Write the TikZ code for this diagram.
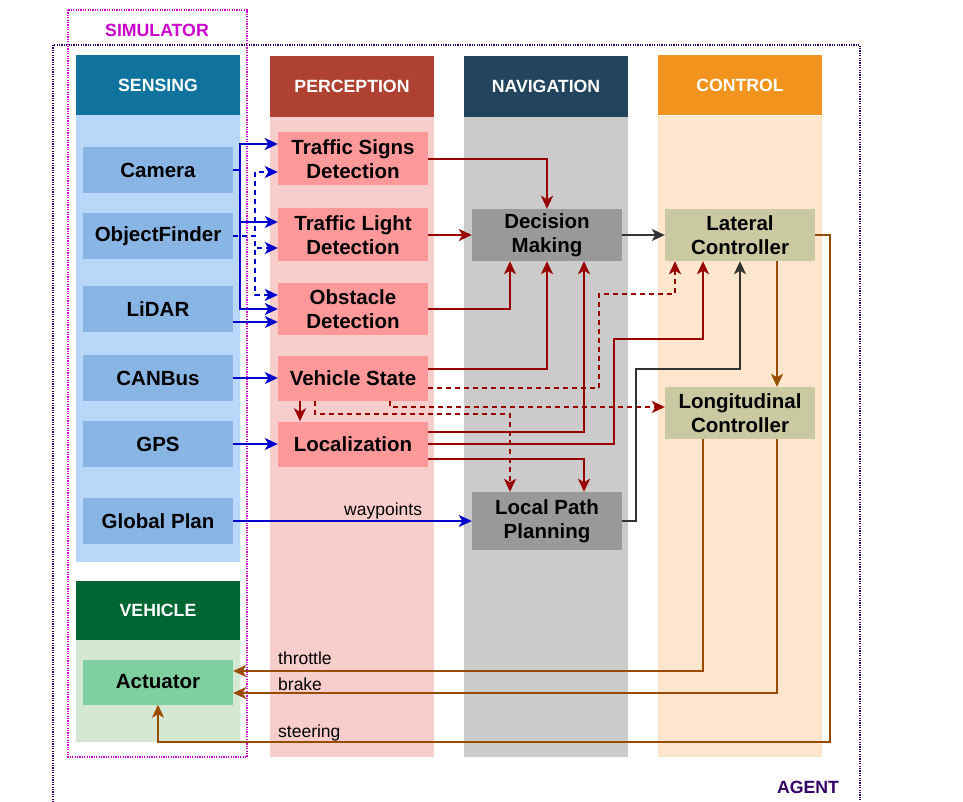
\documentclass[tikz,border=0pt]{standalone}
\usepackage{fontspec}
\setmainfont{Liberation Sans}
\usepackage{tikz}
\usetikzlibrary{arrows.meta}
\usepackage{xcolor}
\definecolor{sensHead}{HTML}{10739E}
\definecolor{sensBody}{HTML}{B9D7F8}
\definecolor{sensNode}{HTML}{89B5E5}
\definecolor{percHead}{HTML}{AE4132}
\definecolor{percBody}{HTML}{F8CECC}
\definecolor{percNode}{HTML}{FF9999}
\definecolor{navHead}{HTML}{23445D}
\definecolor{navBody}{HTML}{CBCBCB}
\definecolor{navNode}{HTML}{999999}
\definecolor{ctrlHead}{HTML}{F2931E}
\definecolor{ctrlBody}{HTML}{FFE6CC}
\definecolor{ctrlNode}{HTML}{C9C9A2}
\definecolor{vehHead}{HTML}{006633}
\definecolor{vehBody}{HTML}{D5E8D4}
\definecolor{vehNode}{HTML}{7FCFA0}
\definecolor{simCol}{HTML}{CC00CC}
\definecolor{agentCol}{HTML}{330066}
\definecolor{sigBlue}{HTML}{0000CC}
\definecolor{sigRed}{HTML}{990000}
\definecolor{sigGray}{HTML}{333333}
\definecolor{sigBrown}{HTML}{994C00}
\newcommand{\boxfont}{\fontsize{20.5}{24}\selectfont\bfseries}
\newcommand{\headfont}{\fontsize{17.7}{20}\selectfont\bfseries}
\newcommand{\lblfont}{\fontsize{17.5}{20}\selectfont}
\tikzset{
  blk/.style     ={minimum width=150pt, minimum height=46pt, inner sep=0pt,
                   align=center, font=\boxfont},
  sensbox/.style ={blk, fill=sensNode},
  percbox/.style ={blk, fill=percNode},
  navbox/.style  ={blk, fill=navNode, minimum height=52pt},
  ctrlbox/.style ={blk, fill=ctrlNode, minimum height=52pt},
  head/.style    ={minimum width=164pt, minimum height=60pt, inner sep=0pt,
                   font=\headfont, text=white},
  arr/.style     ={-{Stealth[length=13pt, width=12pt, inset=3.5pt]},
                   line width=2pt},
  bluearr/.style ={arr, draw=sigBlue},
  redarr/.style  ={arr, draw=sigRed},
  grayarr/.style ={arr, draw=sigGray},
  brownarr/.style={arr, draw=sigBrown},
  dsh/.style     ={dash pattern=on 5pt off 4pt},
  lbl/.style     ={font=\lblfont, inner sep=0pt, anchor=base west},
  frame/.style   ={line width=1.2pt, dash pattern=on 1.2pt off 1.2pt},
}
\begin{document}
\begin{tikzpicture}[x=1pt, y=-1pt]
  \path[use as bounding box] (0,0) rectangle (963,802);
  \clip (0,0) rectangle (963,802);

  % frames
  \draw[frame, agentCol] (53,45) rectangle (860,840);
  \draw[frame, simCol] (68,10) rectangle (247,757);
  \node[font=\headfont, text=simCol] (simlbl) at (157,30) {SIMULATOR};
  \node[font=\headfont, text=agentCol] (agentlbl) at (808,787) {AGENT};

  % columns
  \fill[sensBody] (76,115) rectangle (240,562);
  \fill[percBody] (270,117) rectangle (434,757);
  \fill[navBody] (464,117) rectangle (628,757);
  \fill[ctrlBody] (658,116) rectangle (822,757);
  \fill[vehBody] (76,640) rectangle (240,742);
  \node[head, fill=sensHead, minimum height=60pt] (hsens) at (158,85) {SENSING};
  \node[head, fill=percHead, minimum height=61pt] (hperc) at (352,86.5) {PERCEPTION};
  \node[head, fill=navHead, minimum height=61pt] (hnav) at (546,86.5) {NAVIGATION};
  \node[head, fill=ctrlHead, minimum height=60pt] (hctrl) at (740,85.5) {CONTROL};
  \node[head, fill=vehHead, minimum height=59pt] (hveh) at (158,610.5) {VEHICLE};

  % sensing
  \node[sensbox] (cam) at (158,170) {Camera};
  \node[sensbox] (objf) at (158,236) {ObjectFinder};
  \node[sensbox] (lidar) at (158,309) {LiDAR};
  \node[sensbox] (canbus) at (158,378) {CANBus};
  \node[sensbox] (gps) at (158,444) {GPS};
  \node[sensbox] (gplan) at (158,521) {Global Plan};

  % perception
  \node[percbox, minimum height=53pt] (tsd) at (353,159) {Traffic Signs\\Detection};
  \node[percbox, minimum height=53pt] (tld) at (353,235) {Traffic Light\\Detection};
  \node[percbox, minimum height=52pt] (obst) at (353,309) {Obstacle\\Detection};
  \node[percbox, minimum height=45pt] (vstate) at (353,378) {Vehicle State};
  \node[percbox, minimum height=45pt] (loc) at (353,444) {Localization};

  % navigation and control
  \node[navbox] (dm) at (547,235) {Decision\\Making};
  \node[navbox, minimum height=58pt] (lpp) at (547,521) {Local Path\\Planning};
  \node[ctrlbox] (lat) at (740,235) {Lateral\\Controller};
  \node[ctrlbox] (lon) at (740,413) {Longitudinal\\Controller};

  % vehicle
  \node[blk, fill=vehNode, minimum height=45pt] (act) at (158,682) {Actuator};

  % sensing -> perception
  \draw[bluearr] (cam.east) -- ++(7,0) |- ([yshift=15]tsd.west);
  \draw[bluearr] (cam.east) -- ++(7,0) |- ([yshift=13]tld.west);
  \draw[bluearr] (cam.east) -- ++(7,0) |- (obst.west);
  \draw[bluearr, dsh] (objf.east) -- ++(22,0) |- ([yshift=-13]tsd.west);
  \draw[bluearr, dsh] (objf.east) -- ++(22,0) |- ([yshift=-13]tld.west);
  \draw[bluearr, dsh] (objf.east) -- ++(22,0) |- ([yshift=14]obst.west);
  \draw[bluearr] ([yshift=-13]lidar.east) -- ([yshift=-13]lidar.east -| obst.west);
  \draw[bluearr] (canbus.east) -- (canbus.east -| vstate.west);
  \draw[bluearr] (gps.east) -- (gps.east -| loc.west);
  \draw[bluearr] (gplan.east) -- (gplan.east -| lpp.west);
  \node[lbl] (wp) at (344,515.5) {waypoints};

  % perception -> navigation / control
  \draw[redarr] (tsd.east) -| (dm.north);
  \draw[redarr] (tld.east) -- (dm.west);
  \draw[redarr] (obst.east) -| ([xshift=-37]dm.south);
  \draw[redarr] ([yshift=9]vstate.east) -| (dm.south);
  \draw[redarr] ([xshift=-53]vstate.south) -- ([xshift=-53]loc.north);
  \draw[redarr, dsh] ([yshift=-10]vstate.east) -| (599,294) -| ([xshift=-65]lat.south);
  \draw[redarr, dsh] ([xshift=37]vstate.south) |- ([yshift=6]lon.west);
  \draw[redarr, dsh] ([xshift=-38]vstate.south) -- ++(0,13) -| ([xshift=-37]lpp.north);
  \draw[redarr] ([yshift=12]loc.east) -| ([xshift=37]dm.south);
  \draw[redarr] (loc.east) -| (614,339) -| ([xshift=-37]lat.south);
  \draw[redarr] ([yshift=-15]loc.east) -| ([xshift=37]lpp.north);

  % navigation -> control
  \draw[grayarr] (dm.east) -- (lat.west);
  \draw[grayarr] (lpp.east) -| (636,369) -| (lat.south);

  % control -> vehicle
  \draw[brownarr] ([xshift=37]lat.south) -- ([xshift=37]lon.north);
  \draw[brownarr] (lat.east) -| (830,742) -| (act.south);
  \draw[brownarr] ([xshift=-37]lon.south) |- ([yshift=11]act.east);
  \draw[brownarr] ([xshift=37]lon.south) |- ([yshift=-11]act.east);
  \node[lbl] (thr) at (278,664.5) {throttle};
  \node[lbl] (brk) at (278,690.5) {brake};
  \node[lbl] (str) at (278,737.5) {steering};
\end{tikzpicture}
\end{document}
